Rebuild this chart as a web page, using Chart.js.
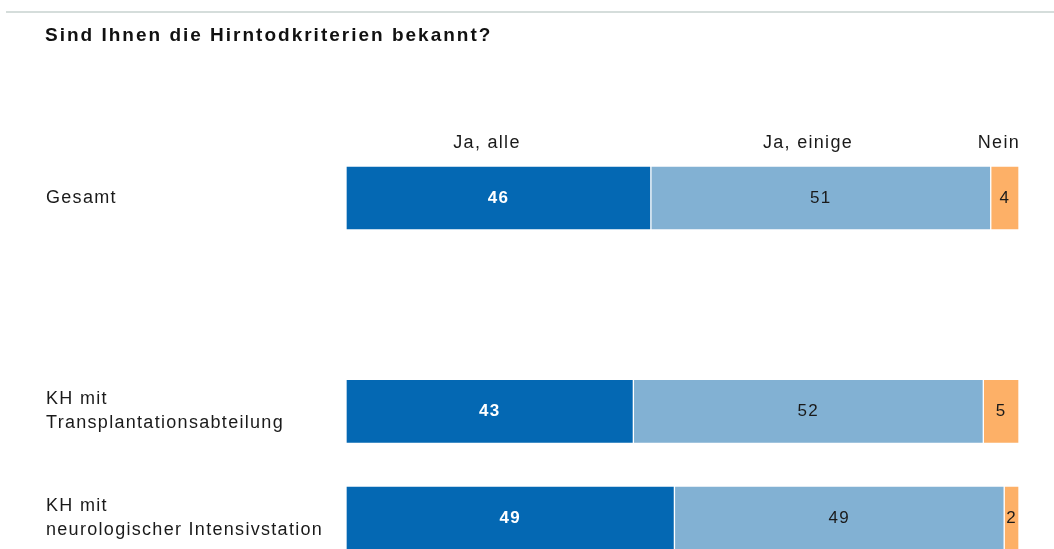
<!DOCTYPE html>
<html>
<head>
    <title>Hirntodkriterien</title>
    <script src="https://cdn.jsdelivr.net/npm/chart.js"></script>
    <style>
        html, body { margin: 0; padding: 0; background: #fff; overflow: hidden; }
        #wrap { position: relative; width: 1054px; height: 549px; }
    </style>
</head>
<body>
    <div id="wrap">
        <canvas id="hirntodChart"></canvas>
    </div>

    <script>
        // Daten (Anteile in %, aus dem Bild geschaetzt)
        const categories = [['Gesamt'], [''], ['KH mit', 'Transplantationsabteilung'], ['KH mit', 'neurologischer Intensivstation']];
        const seriesNames = ['Ja, alle', 'Ja, einige', 'Nein'];
        const jaAlle = [45.3, null, 42.7, 48.8];
        const jaEinige = [50.5, null, 52.0, 49.0];
        const nein = [4.2, null, 5.3, 2.2];
        // angezeigte (gerundete) Werte
        const jaAlleLabels = ['46', '', '43', '49'];
        const jaEinigeLabels = ['51', '', '52', '49'];
        const neinLabels = ['4', '', '5', '2'];

        const FONT = '"Liberation Sans", Arial, sans-serif';
        const SPACING = '1.3px';

        // Buchstabenabstand wie im Original
        const spacingPlugin = {
            id: 'spacing',
            beforeLayout(chart) { chart.ctx.letterSpacing = SPACING; },
            beforeDraw(chart) { chart.ctx.letterSpacing = SPACING; }
        };

        // Titel, Linie und Spaltenkoepfe
        const headerPlugin = {
            id: 'header',
            beforeDraw(chart) {
                const ctx = chart.ctx;
                ctx.save();
                ctx.fillStyle = '#d5dddb';
                ctx.fillRect(6, 11, 1048, 2);

                ctx.fillStyle = '#111';
                ctx.font = 'bold 19px ' + FONT;
                ctx.letterSpacing = '2px';
                ctx.textAlign = 'left';
                ctx.textBaseline = 'alphabetic';
                ctx.fillText('Sind Ihnen die Hirntodkriterien bekannt?', 45, 41);

                ctx.letterSpacing = SPACING;
                ctx.font = '18px ' + FONT;
                ctx.fillStyle = '#1a1a1a';
                ctx.textAlign = 'center';
                ctx.fillText(seriesNames[0], 487, 148);
                ctx.fillText(seriesNames[1], 808, 148);
                ctx.textAlign = 'right';
                ctx.fillText(seriesNames[2], 1020, 148);
                ctx.restore();
            }
        };

        // Werte in den Balken
        const valuePlugin = {
            id: 'values',
            afterDatasetsDraw(chart) {
                const ctx = chart.ctx;
                const labelSets = [jaAlleLabels, jaEinigeLabels, neinLabels];
                ctx.save();
                ctx.textAlign = 'center';
                ctx.textBaseline = 'middle';
                chart.data.datasets.forEach((ds, i) => {
                    const meta = chart.getDatasetMeta(i);
                    meta.data.forEach((bar, j) => {
                        if (ds.data[j] === null) return;
                        const x = (bar.x + bar.base) / 2;
                        ctx.font = (i === 0 ? 'bold ' : '') + '17px ' + FONT;
                        ctx.fillStyle = i === 0 ? '#fff' : '#1a1a1a';
                        ctx.fillText(labelSets[i][j], x, bar.y);
                    });
                });
                ctx.restore();
            }
        };

        const ctx = document.getElementById('hirntodChart').getContext('2d');
        const hirntodChart = new Chart(ctx, {
            type: 'bar',
            data: {
                labels: categories,
                datasets: [
                    { label: seriesNames[0], data: jaAlle, backgroundColor: '#0468b3' },
                    { label: seriesNames[1], data: jaEinige, backgroundColor: '#82b1d3' },
                    { label: seriesNames[2], data: nein, backgroundColor: '#fdb067' }
                ]
            },
            options: {
                indexAxis: 'y',
                responsive: true,
                maintainAspectRatio: false,
                animation: false,
                layout: { padding: { left: 46, right: 35, top: 198, bottom: 31 } },
                datasets: {
                    bar: {
                        barThickness: 64,
                        borderColor: '#ffffff',
                        borderWidth: 1,
                        borderSkipped: false,
                        clip: false
                    }
                },
                plugins: {
                    legend: { display: false },
                    tooltip: { enabled: false }
                },
                scales: {
                    x: {
                        stacked: true,
                        min: 0,
                        max: 100,
                        display: false
                    },
                    y: {
                        stacked: true,
                        offset: false,
                        grid: { display: false },
                        border: { display: false },
                        afterFit(scale) { scale.width = 300; },
                        ticks: {
                            crossAlign: 'far',
                            color: '#1a1a1a',
                            font: { family: FONT, size: 18, lineHeight: 1.33 }
                        }
                    }
                }
            },
            plugins: [spacingPlugin, headerPlugin, valuePlugin]
        });
    </script>
</body>
</html>
